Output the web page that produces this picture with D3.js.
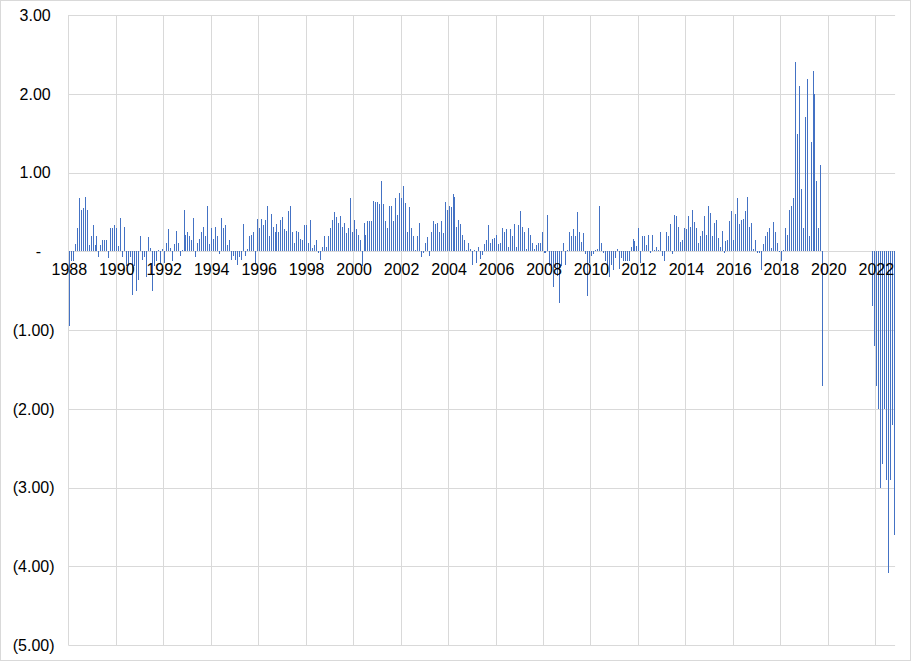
<!DOCTYPE html>
<html><head><meta charset="utf-8">
<script src="https://cdn.jsdelivr.net/npm/d3@7"></script>
<style>html,body{margin:0;padding:0;background:#fff;} svg{display:block;font-family:"Liberation Sans",Arial,sans-serif;}</style>
</head><body><svg id="c" width="911" height="661"></svg>
<script>
// Monthly categories: Jan 1988 .. Oct 2022
const firstMonth = new Date(1988, 0, 1);
const endMonthExclusive = new Date(2022, 10, 1);

// Series values (one per month, null = no data)
const values = [
-0.95,-0.13,-0.13,0.09,0.29,0.68,0.52,0.55,0.69,0.53,
0.08,0.19,0.33,0.08,0.19,-0.07,0.08,0.14,0.14,0.14,
-0.08,0.29,0.29,0.33,0.30,0.07,0.42,-0.07,0.31,-0.19,
-0.19,-0.07,-0.56,-0.19,-0.50,-0.37,0.19,-0.11,-0.07,-0.33,
0.18,0.04,-0.51,-0.19,-0.12,0.01,-0.15,0.03,-0.15,0.11,
0.28,0.04,-0.13,0.09,0.26,0.11,-0.06,0.01,0.53,0.21,
0.25,0.19,0.14,0.42,-0.07,0.11,0.16,0.24,0.31,0.19,
0.58,0.09,0.29,0.16,0.31,0.19,-0.03,0.42,0.30,0.33,
0.08,0.14,-0.11,-0.06,-0.11,-0.18,-0.07,-0.11,0.35,-0.06,
0.03,0.19,0.21,0.24,-0.15,0.41,0.29,0.41,0.33,0.40,
0.58,0.19,0.47,0.31,0.25,0.35,0.25,0.40,0.43,0.28,
0.26,0.51,0.58,0.25,0.10,0.26,0.25,0.15,0.14,0.33,
0.33,0.11,0.40,0.04,0.08,0.14,-0.02,-0.11,0.05,0.19,
0.05,0.19,0.29,0.40,0.50,0.44,0.36,0.45,0.31,0.36,
0.23,0.29,0.67,0.24,0.40,0.28,0.21,0.14,-0.19,0.36,
0.21,0.38,0.38,0.38,0.64,0.63,0.62,0.60,0.89,0.60,
0.38,0.29,0.57,0.57,0.38,0.67,0.46,0.74,0.67,0.83,
0.61,0.25,0.56,0.29,0.19,0.02,0.19,0.36,-0.07,-0.02,
0.11,0.18,-0.06,0.24,0.38,0.35,0.36,0.25,0.38,0.23,
0.62,0.53,0.58,0.56,0.73,0.69,0.31,0.40,0.35,0.21,
0.14,0.02,0.10,0.03,-0.17,0.01,-0.15,0.05,-0.10,-0.05,
0.09,0.14,0.33,0.11,0.15,0.17,0.21,0.09,0.11,0.30,
0.25,0.28,0.05,0.28,0.19,0.35,0.06,0.33,0.51,0.31,
0.24,0.03,0.30,0.21,0.10,0.03,0.08,0.11,0.10,0.24,
-0.02,-0.02,0.46,-0.19,-0.19,-0.45,-0.19,-0.32,-0.66,-0.19,
0.11,-0.17,0.02,0.24,0.19,0.28,0.19,0.50,0.24,0.12,
0.23,-0.03,-0.57,-0.15,-0.06,-0.03,0.02,0.03,0.58,0.11,
-0.02,-0.13,-0.28,-0.33,-0.17,-0.24,-0.09,0.03,-0.22,-0.08,
-0.12,-0.12,-0.12,-0.12,0.06,0.16,0.13,0.07,0.30,-0.15,
0.19,0.19,0.08,0.21,-0.02,0.21,0.01,0.05,0.02,0.25,
-0.06,-0.13,0.25,0.19,0.34,-0.03,0.46,0.45,0.31,0.12,
0.14,0.30,0.28,0.45,0.31,0.52,0.37,0.29,0.11,0.19,
0.26,0.45,0.21,0.57,0.49,0.19,0.36,0.40,0.17,0.05,
0.26,-0.02,0.13,0.14,0.38,0.51,0.14,0.47,0.67,0.35,
0.40,0.41,0.51,0.69,0.31,0.36,0.03,0.14,-0.02,-0.02,
-0.24,0.09,0.19,0.25,0.29,0.04,0.37,0.25,0.11,-0.01,
-0.13,0.02,0.30,0.21,0.53,0.58,0.67,2.40,1.49,2.10,
0.79,0.30,1.70,2.19,0.19,1.39,2.29,2.00,0.89,0.30,
1.10,-1.71,
null,null,null,null,null,null,null,null,null,null,null,null,
null,null,null,null,null,null,null,null,null,null,null,null,
-0.70,-1.20,-1.71,-2.00,-3.00,-2.70,-2.00,-2.90,-4.09,-2.90,-2.20,-3.60
];

// Axis tick values and labels
const yTicks = [3, 2, 1, 0, -1, -2, -3, -4, -5];
const yTickLabels = ["3.00","2.00","1.00","-","(1.00)","(2.00)","(3.00)","(4.00)","(5.00)"];
const xLabelYears = [1988,1990,1992,1994,1996,1998,2000,2002,2004,2006,2008,2010,2012,2014,2016,2018,2020,2022];

const months = d3.timeMonths(firstMonth, endMonthExclusive);
const key = d3.timeFormat("%Y-%m");
const data = months.map((m, i) => ({ k: key(m), date: m, v: values[i] }));

const svg = d3.select("#c");
const W = 911, H = 661;
const plot = { left: 68.3, right: 895.1, top: 15, bottom: 645 };

const x = d3.scaleBand().domain(data.map(d => d.k)).range([plot.left, plot.right]).padding(0);
const y = d3.scaleLinear().domain([-5, 3]).range([plot.bottom, plot.top]);

const grid = "#d9d9d9";

// outer border
svg.append("rect").attr("x", 0.5).attr("y", 0.5).attr("width", W - 1).attr("height", H - 1)
  .attr("fill", "#fff").attr("stroke", grid);

// horizontal gridlines
svg.append("g").selectAll("line").data(yTicks).join("line")
  .attr("x1", plot.left).attr("x2", plot.right)
  .attr("y1", d => Math.round(y(d)) + 0.5).attr("y2", d => Math.round(y(d)) + 0.5)
  .attr("stroke", grid).attr("stroke-width", 1);

// vertical gridlines at labelled years
const yearKey = yr => key(new Date(yr, 0, 1));
svg.append("g").selectAll("line").data(xLabelYears).join("line")
  .attr("x1", d => Math.round(x(yearKey(d))) + 0.5).attr("x2", d => Math.round(x(yearKey(d))) + 0.5)
  .attr("y1", plot.top).attr("y2", plot.bottom)
  .attr("stroke", grid).attr("stroke-width", 1);

// bars
const barW = 1;
svg.append("g").attr("shape-rendering", "crispEdges").selectAll("rect")
  .data(data.filter(d => d.v !== null)).join("rect")
  .attr("x", d => x(d.k) + x.bandwidth() / 2 - barW / 2)
  .attr("width", barW)
  .attr("y", d => y(Math.max(0, d.v)))
  .attr("height", d => Math.abs(y(d.v) - y(0)))
  .attr("fill", "#4472C4");

// x labels
svg.append("g").selectAll("text").data(xLabelYears).join("text")
  .attr("x", d => x(yearKey(d)) + x.bandwidth() / 2)
  .attr("y", 275)
  .attr("text-anchor", "middle")
  .attr("font-size", 16).attr("fill", "#000")
  .text(d => d);

// y labels
svg.append("g").selectAll("text").data(yTicks).join("text")
  .attr("x", d => d > 0 ? 50.7 : (d < 0 ? 54.5 : 38.4))
  .attr("y", d => y(d) + 5.8)
  .attr("text-anchor", d => d === 0 ? "middle" : "end")
  .attr("font-size", 16).attr("fill", "#000")
  .text((d, i) => yTickLabels[i]);
</script>
</body></html>
